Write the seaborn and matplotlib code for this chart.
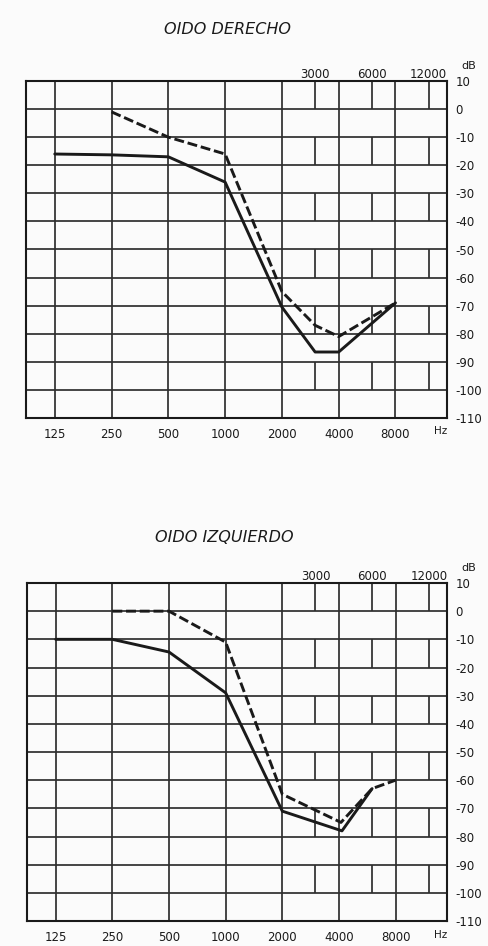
import pandas as pd
import seaborn as sns
import matplotlib.pyplot as plt

sns.set_style("white")
plt.rcParams['font.family'] = ['DejaVu Sans']

# grid frequencies and levels
freqs_main = [125, 250, 500, 1000, 2000, 4000, 8000]
freqs_half = [3000, 6000, 12000]
db_levels = list(range(10, -120, -10))

# OIDO DERECHO
der_sol_hz = [125, 250, 500, 1000, 2000, 3000, 4000, 8000]
der_sol_db = [-16, -16.3, -17, -26, -70.5, -86.5, -86.5, -69]
der_das_hz = [250, 500, 1000, 2000, 3000, 4000, 8000]
der_das_db = [-1, -10, -16, -65, -77, -81, -69]

# OIDO IZQUIERDO
izq_sol_hz = [125, 250, 500, 1000, 2000, 4150, 6000]
izq_sol_db = [-10, -10, -14.5, -29, -71, -78, -63]
izq_das_hz = [250, 500, 1000, 2000, 4100, 6000, 8000]
izq_das_db = [0, 0, -11, -65, -75, -63, -60]

ink = "#1a1a1a"
grid_c = "#2e2e2e"
fs = 8.5

fig = plt.figure(figsize=(4.88, 9.46), dpi=100)
fig.patch.set_facecolor("#fbfbfb")

ax1 = fig.add_axes([26 / 488, 1 - 418 / 946, 421 / 488, 337 / 946])
ax2 = fig.add_axes([27 / 488, 1 - 921 / 946, 420 / 488, 338 / 946])


def audiogram(ax, sol_hz, sol_db, das_hz, das_db):
    ax.set_facecolor("#fbfbfb")
    ax.set_xscale("log", base=2)
    ax.set_xlim(88, 15000)
    ax.set_ylim(-110, 10)

    # grid of the printed form
    for y in db_levels:
        ax.axhline(y, color=grid_c, lw=1.25, zorder=1)
    for f in freqs_main:
        ax.axvline(f, color=grid_c, lw=1.25, zorder=1)
    for f in freqs_half:
        for top in [10, -10, -30, -50, -70, -90]:
            ax.vlines(f, top - 10, top, color=grid_c, lw=1.25, zorder=1)

    sol = pd.DataFrame({"Hz": sol_hz, "dB": sol_db})
    das = pd.DataFrame({"Hz": das_hz, "dB": das_db})
    sns.lineplot(data=sol, x="Hz", y="dB", ax=ax, color=ink, lw=2.1, zorder=3)
    sns.lineplot(data=das, x="Hz", y="dB", ax=ax, color=ink, lw=2.1,
                 linestyle=(0, (3.4, 1.3)), zorder=3)

    ax.set_xlabel("")
    ax.set_ylabel("")
    ax.set_xticks(freqs_main)
    ax.set_xticklabels([str(f) for f in freqs_main], fontsize=fs, color=ink)
    ax.minorticks_off()
    ax.yaxis.tick_right()
    ax.set_yticks(db_levels)
    ax.set_yticklabels([str(v) for v in db_levels], fontsize=fs, color=ink)
    ax.tick_params(axis="x", length=0, pad=7)
    ax.tick_params(axis="y", length=0, pad=6)
    for s in ax.spines.values():
        s.set_visible(True)
        s.set_color(ink)
        s.set_linewidth(1.5)

    tr = ax.get_xaxis_transform()
    for f in freqs_half:
        ax.text(f, 1.02, str(f), transform=tr, ha="center", va="center",
                fontsize=fs, color=ink)
    ax.text(1.035, 1.045, "dB", transform=ax.transAxes, ha="left",
            va="center", fontsize=fs - 0.5, color=ink)
    ax.text(0.985, -0.04, "Hz", transform=ax.transAxes, ha="center",
            va="center", fontsize=fs - 1, color=ink)


audiogram(ax1, der_sol_hz, der_sol_db, der_das_hz, der_das_db)
audiogram(ax2, izq_sol_hz, izq_sol_db, izq_das_hz, izq_das_db)

fig.text(227 / 488, 1 - 30 / 946, "OIDO DERECHO", ha="center", va="center",
         fontsize=11.5, style="italic", color=ink)
fig.text(224 / 488, 1 - 538 / 946, "OIDO IZQUIERDO", ha="center",
         va="center", fontsize=11.5, style="italic", color=ink)

fig.savefig("out.png", dpi=100, facecolor=fig.get_facecolor())
